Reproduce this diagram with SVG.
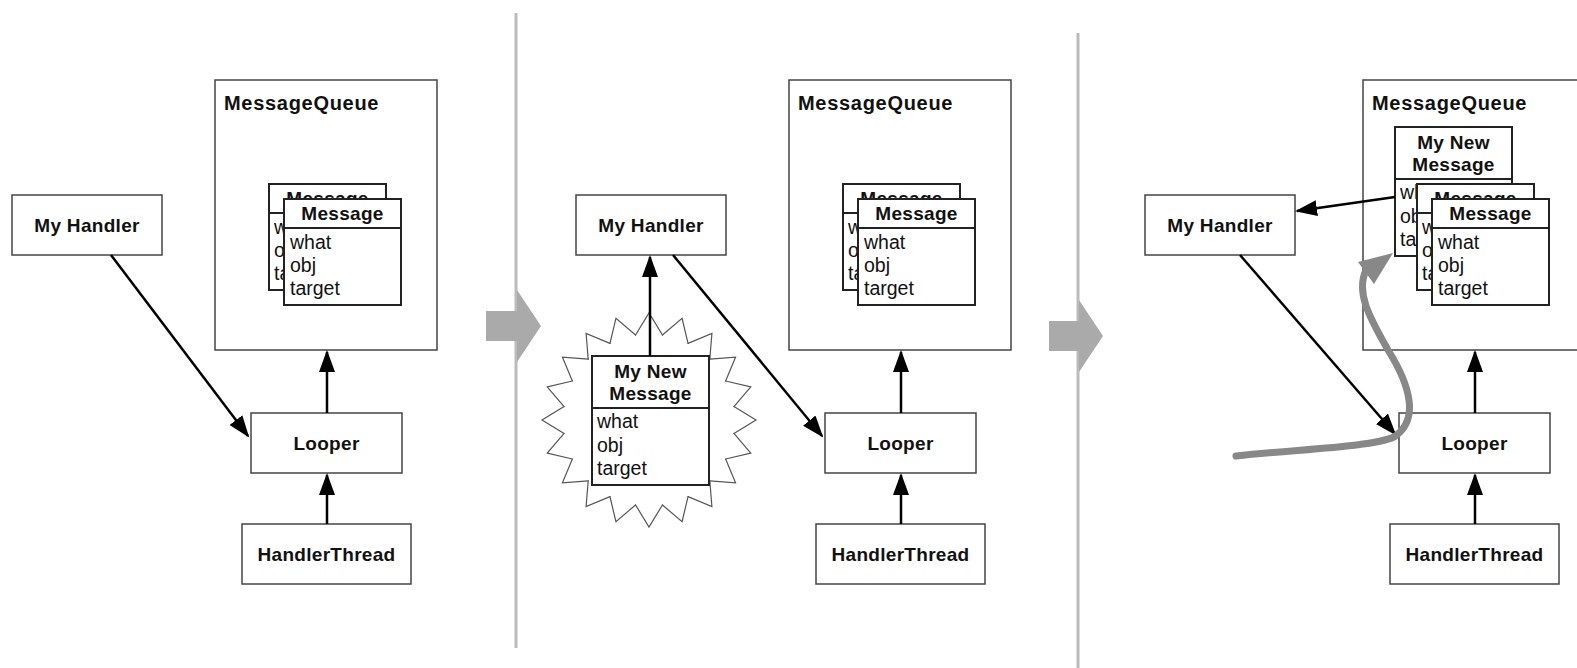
<svg xmlns="http://www.w3.org/2000/svg" xmlns:xlink="http://www.w3.org/1999/xlink" width="1577" height="668" viewBox="0 0 1577 668">
<style>
  .box { fill: #fff; stroke: #444; stroke-width: 1.5; }
  .msg { fill: #fff; stroke: #222; stroke-width: 2; }
  .div { stroke: #222; stroke-width: 2; }
  .lbl { font-family: "Liberation Sans", Arial, Helvetica, sans-serif; font-weight: bold; font-size: 19px; fill: #111; text-anchor: middle; letter-spacing: 0.3px; }
  .mq { font-family: "Liberation Sans", Arial, Helvetica, sans-serif; font-weight: bold; font-size: 20px; fill: #111; letter-spacing: 0.7px; }
  .fld { font-family: "Liberation Sans", Arial, Helvetica, sans-serif; font-size: 19.5px; fill: #111; }
  .conn { stroke: #000; stroke-width: 2.5; fill: none; }
  .sep { stroke: #bbb; stroke-width: 3; }
  .big { fill: #aaa; }
  .star { fill: none; stroke: #555; stroke-width: 1.2; stroke-linecap: round; stroke-linejoin: miter; }
  .curve { fill: none; stroke: #888; stroke-width: 7; stroke-linecap: round; }
</style>
<defs>
  <marker id="ah" markerUnits="userSpaceOnUse" markerWidth="24" markerHeight="18" refX="20" refY="8" orient="auto" viewBox="0 0 24 18">
    <path d="M0,0 L22,8 L0,16 z" fill="#000"/>
  </marker>
  <polyline id="spike" points="-13.45,-84.94 0,-107 13.45,-84.94"/>
</defs>
<rect width="1577" height="668" fill="#fff"/>

<!-- separators and transition arrows -->
<g id="separators">
  <line class="sep" x1="516" y1="13" x2="516" y2="648"/>
  <line class="sep" x1="1078" y1="33" x2="1078" y2="668"/>
  <polygon class="big" points="486,311 517,311 517,290 541,326 517,362 517,341 486,341"/>
  <polygon class="big" points="1049,321 1079,321 1079,300 1103,336 1079,372 1079,351 1049,351"/>
</g>

<!-- ============ Panel 1 ============ -->
<g id="p1-messagequeue">
  <rect class="box" x="215" y="80" width="222" height="270"/>
  <text class="mq" x="224" y="110">MessageQueue</text>
</g>
<g id="p1-message-back">
  <rect class="msg" x="269" y="184" width="117" height="106"/>
  <line class="div" x1="269" y1="213" x2="386" y2="213"/>
  <text class="lbl" x="327.5" y="205">Message</text>
  <text class="fld" x="274" y="234">what</text>
  <text class="fld" x="274" y="257">obj</text>
  <text class="fld" x="274" y="280">target</text>
</g>
<g id="p1-message-front">
  <rect class="msg" x="284" y="199" width="117" height="106"/>
  <line class="div" x1="284" y1="228" x2="401" y2="228"/>
  <text class="lbl" x="342.5" y="220">Message</text>
  <text class="fld" x="290" y="249">what</text>
  <text class="fld" x="290" y="272">obj</text>
  <text class="fld" x="290" y="295">target</text>
</g>
<g id="p1-myhandler">
  <rect class="box" x="12" y="195" width="150" height="60"/>
  <text class="lbl" x="87" y="231.5">My Handler</text>
</g>
<g id="p1-looper">
  <rect class="box" x="251" y="413" width="151" height="60"/>
  <text class="lbl" x="326.5" y="449.5">Looper</text>
</g>
<g id="p1-handlerthread">
  <rect class="box" x="242" y="524" width="169" height="60"/>
  <text class="lbl" x="326.5" y="560.5">HandlerThread</text>
</g>

<!-- ============ Panel 2 ============ -->
<g id="p2-messagequeue">
  <rect class="box" x="789" y="80" width="222" height="270"/>
  <text class="mq" x="798" y="110">MessageQueue</text>
</g>
<g id="p2-message-back">
  <rect class="msg" x="843" y="184" width="117" height="106"/>
  <line class="div" x1="843" y1="213" x2="960" y2="213"/>
  <text class="lbl" x="901.5" y="205">Message</text>
  <text class="fld" x="848" y="234">what</text>
  <text class="fld" x="848" y="257">obj</text>
  <text class="fld" x="848" y="280">target</text>
</g>
<g id="p2-message-front">
  <rect class="msg" x="858" y="199" width="117" height="106"/>
  <line class="div" x1="858" y1="228" x2="975" y2="228"/>
  <text class="lbl" x="916.5" y="220">Message</text>
  <text class="fld" x="864" y="249">what</text>
  <text class="fld" x="864" y="272">obj</text>
  <text class="fld" x="864" y="295">target</text>
</g>
<g id="p2-myhandler">
  <rect class="box" x="576" y="195" width="150" height="60"/>
  <text class="lbl" x="651" y="231.5">My Handler</text>
</g>
<g id="p2-looper">
  <rect class="box" x="825" y="413" width="151" height="60"/>
  <text class="lbl" x="900.5" y="449.5">Looper</text>
</g>
<g id="p2-handlerthread">
  <rect class="box" x="816" y="524" width="169" height="60"/>
  <text class="lbl" x="900.5" y="560.5">HandlerThread</text>
</g>
<g id="p2-starburst" class="star" transform="translate(649,420)">
  <use xlink:href="#spike" href="#spike" transform="rotate(0)"/>
  <use xlink:href="#spike" href="#spike" transform="rotate(18)"/>
  <use xlink:href="#spike" href="#spike" transform="rotate(36)"/>
  <use xlink:href="#spike" href="#spike" transform="rotate(54)"/>
  <use xlink:href="#spike" href="#spike" transform="rotate(72)"/>
  <use xlink:href="#spike" href="#spike" transform="rotate(90)"/>
  <use xlink:href="#spike" href="#spike" transform="rotate(108)"/>
  <use xlink:href="#spike" href="#spike" transform="rotate(126)"/>
  <use xlink:href="#spike" href="#spike" transform="rotate(144)"/>
  <use xlink:href="#spike" href="#spike" transform="rotate(162)"/>
  <use xlink:href="#spike" href="#spike" transform="rotate(180)"/>
  <use xlink:href="#spike" href="#spike" transform="rotate(198)"/>
  <use xlink:href="#spike" href="#spike" transform="rotate(216)"/>
  <use xlink:href="#spike" href="#spike" transform="rotate(234)"/>
  <use xlink:href="#spike" href="#spike" transform="rotate(252)"/>
  <use xlink:href="#spike" href="#spike" transform="rotate(270)"/>
  <use xlink:href="#spike" href="#spike" transform="rotate(288)"/>
  <use xlink:href="#spike" href="#spike" transform="rotate(306)"/>
  <use xlink:href="#spike" href="#spike" transform="rotate(324)"/>
  <use xlink:href="#spike" href="#spike" transform="rotate(342)"/>
</g>
<g id="p2-mynewmessage">
  <rect class="msg" x="592" y="356" width="117" height="129"/>
  <line class="div" x1="592" y1="408" x2="709" y2="408"/>
  <text class="lbl" x="650.5" y="378">My New</text>
  <text class="lbl" x="650.5" y="400">Message</text>
  <text class="fld" x="597" y="428">what</text>
  <text class="fld" x="597" y="452">obj</text>
  <text class="fld" x="597" y="475">target</text>
</g>

<!-- ============ Panel 3 ============ -->
<g id="p3-messagequeue">
  <rect class="box" x="1363" y="80" width="222" height="270"/>
  <text class="mq" x="1372" y="110">MessageQueue</text>
</g>
<g id="p3-mynewmessage">
  <rect class="msg" x="1395" y="127" width="117" height="129"/>
  <line class="div" x1="1395" y1="179" x2="1512" y2="179"/>
  <text class="lbl" x="1453.5" y="149">My New</text>
  <text class="lbl" x="1453.5" y="171">Message</text>
  <text class="fld" x="1400" y="199">what</text>
  <text class="fld" x="1400" y="223">obj</text>
  <text class="fld" x="1400" y="246">target</text>
</g>
<g id="p3-message-back">
  <rect class="msg" x="1417" y="184" width="117" height="106"/>
  <line class="div" x1="1417" y1="213" x2="1534" y2="213"/>
  <text class="lbl" x="1475.5" y="205">Message</text>
  <text class="fld" x="1422" y="234">what</text>
  <text class="fld" x="1422" y="257">obj</text>
  <text class="fld" x="1422" y="280">target</text>
</g>
<g id="p3-message-front">
  <rect class="msg" x="1432" y="199" width="117" height="106"/>
  <line class="div" x1="1432" y1="228" x2="1549" y2="228"/>
  <text class="lbl" x="1490.5" y="220">Message</text>
  <text class="fld" x="1438" y="249">what</text>
  <text class="fld" x="1438" y="272">obj</text>
  <text class="fld" x="1438" y="295">target</text>
</g>
<g id="p3-myhandler">
  <rect class="box" x="1145" y="195" width="150" height="60"/>
  <text class="lbl" x="1220" y="231.5">My Handler</text>
</g>
<g id="p3-looper">
  <rect class="box" x="1399" y="413" width="151" height="60"/>
  <text class="lbl" x="1474.5" y="449.5">Looper</text>
</g>
<g id="p3-handlerthread">
  <rect class="box" x="1390" y="524" width="169" height="60"/>
  <text class="lbl" x="1474.5" y="560.5">HandlerThread</text>
</g>

<!-- ============ Connectors ============ -->
<g id="connectors">
  <!-- panel 1 -->
  <line class="conn" x1="111" y1="255" x2="248" y2="436" marker-end="url(#ah)"/>
  <line class="conn" x1="327" y1="413" x2="327" y2="352" marker-end="url(#ah)"/>
  <line class="conn" x1="327" y1="524" x2="327" y2="475" marker-end="url(#ah)"/>
  <!-- panel 2 -->
  <line class="conn" x1="650" y1="356" x2="650" y2="257" marker-end="url(#ah)"/>
  <line class="conn" x1="673" y1="255" x2="822" y2="436" marker-end="url(#ah)"/>
  <line class="conn" x1="901" y1="413" x2="901" y2="352" marker-end="url(#ah)"/>
  <line class="conn" x1="901" y1="524" x2="901" y2="475" marker-end="url(#ah)"/>
  <!-- panel 3 -->
  <line class="conn" x1="1395" y1="197" x2="1297" y2="211" marker-end="url(#ah)"/>
  <line class="conn" x1="1240" y1="255" x2="1395" y2="434" marker-end="url(#ah)"/>
  <line class="conn" x1="1475" y1="413" x2="1475" y2="352" marker-end="url(#ah)"/>
  <line class="conn" x1="1475" y1="524" x2="1475" y2="475" marker-end="url(#ah)"/>
  <!-- gray curved arrow -->
  <path class="curve" d="M1236,456 C1300,449 1372,447 1394,437 C1420,420 1410,385 1388,350 C1368,315 1356,292 1366,270"/>
  <polygon points="1393,253 1358,262 1374,284" fill="#888"/>
</g>
</svg>
